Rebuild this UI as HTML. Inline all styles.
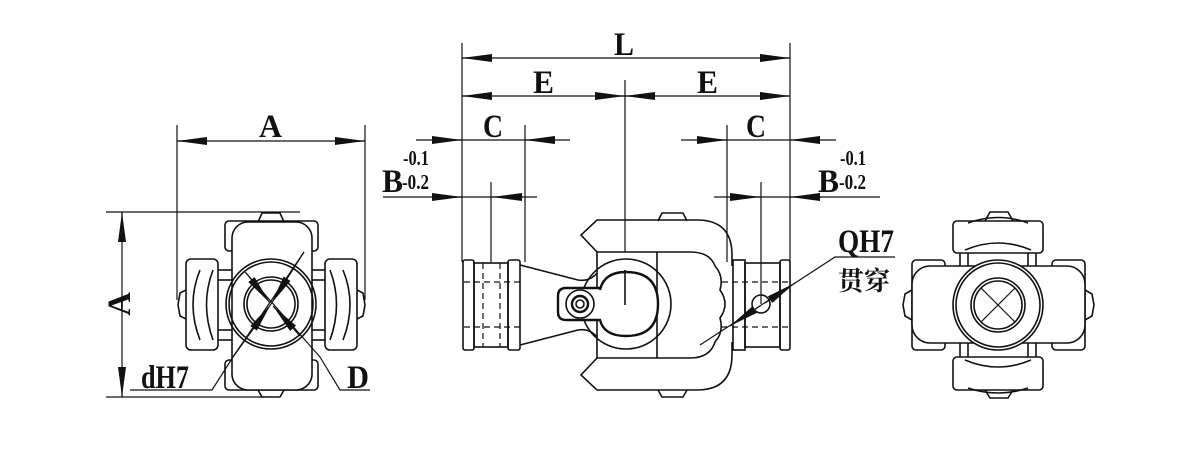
<!DOCTYPE html>
<html><head><meta charset="utf-8"><style>
html,body{margin:0;padding:0;background:#fff;}
svg{display:block;}
text{font-family:"Liberation Serif","Noto Serif CJK SC",serif;font-weight:bold;fill:#111;}
</style></head><body>
<svg width="1200" height="455" viewBox="0 0 1200 455" xmlns="http://www.w3.org/2000/svg">
<defs>
<marker id="ar" viewBox="0 0 30 8" refX="30" refY="4" markerWidth="30" markerHeight="8" markerUnits="userSpaceOnUse" orient="auto"><path d="M0,0 L30,4 L0,8 Z" fill="#111"/></marker>
</defs>
<g stroke="#111" stroke-width="1.2" fill="none">
<!-- LEFT VIEW dimensions -->
<line x1="177" y1="125" x2="177" y2="300"/>
<line x1="365" y1="125" x2="365" y2="300"/>
<line x1="177" y1="141" x2="365" y2="141"/>
<line x1="207" y1="141" x2="177" y2="141" marker-end="url(#ar)"/>
<line x1="335" y1="141" x2="365" y2="141" marker-end="url(#ar)"/>
<line x1="106" y1="212" x2="300" y2="212"/>
<line x1="106" y1="397" x2="265" y2="397"/>
<line x1="122" y1="212" x2="122" y2="397"/>
<line x1="122" y1="242" x2="122" y2="212" marker-end="url(#ar)"/>
<line x1="122" y1="367" x2="122" y2="397" marker-end="url(#ar)"/>
<!-- left view body -->
<g stroke-width="1.6">
<path d="M258,222 L262,213 L280,213 L284,222"/>
<path d="M258,390 L262,397 L280,397 L284,390"/>
<rect x="225" y="221" width="93" height="30" rx="4"/>
<rect x="225" y="360" width="93" height="30" rx="4"/>
<rect x="232" y="222" width="80" height="168" rx="16" fill="#fff"/>
<line x1="218" y1="270" x2="232" y2="270"/><line x1="218" y1="340" x2="232" y2="340"/>
<line x1="218" y1="280" x2="232" y2="280"/><line x1="218" y1="330" x2="232" y2="330"/>
<line x1="312" y1="270" x2="325" y2="270"/><line x1="312" y1="340" x2="325" y2="340"/>
<line x1="312" y1="280" x2="325" y2="280"/><line x1="312" y1="330" x2="325" y2="330"/>
<rect x="186" y="259" width="32" height="91" rx="5"/>
<rect x="325" y="259" width="32" height="91" rx="5"/>
<path d="M200,270 Q186,304 200,340"/><path d="M213,270 Q200,304 213,340"/>
<path d="M343,270 Q357,304 343,340"/><path d="M330,270 Q343,304 330,340"/>
<path d="M186,290 L180,293 L178,305 L180,316 L186,319"/>
<path d="M357,290 L363,293 L365,305 L363,316 L357,319"/>
<circle cx="271" cy="304" r="45"/><circle cx="271" cy="304" r="42"/>
<circle cx="271" cy="304" r="27"/><circle cx="271" cy="304" r="24"/>
</g>
<line x1="304" y1="252" x2="233" y2="357"/>
<line x1="233" y1="357" x2="271" y2="304" marker-end="url(#ar)"/>
<line x1="304" y1="252" x2="271" y2="304" marker-end="url(#ar)"/>
<polyline points="130,390 212,390 233,357"/>
<line x1="245" y1="272" x2="320" y2="357"/>
<polyline points="320,357 340,390 370,390"/>
<line x1="247" y1="274" x2="270" y2="303" marker-end="url(#ar)"/>
<line x1="300" y1="336" x2="273" y2="306" marker-end="url(#ar)"/>

<!-- CENTER VIEW dimensions -->
<line x1="462" y1="43" x2="462" y2="262"/>
<line x1="790" y1="43" x2="790" y2="262"/>
<line x1="462" y1="58" x2="790" y2="58"/>
<line x1="492" y1="58" x2="462" y2="58" marker-end="url(#ar)"/>
<line x1="760" y1="58" x2="790" y2="58" marker-end="url(#ar)"/>
<line x1="462" y1="96" x2="790" y2="96"/>
<line x1="492" y1="96" x2="462" y2="96" marker-end="url(#ar)"/>
<line x1="595" y1="96" x2="625" y2="96" marker-end="url(#ar)"/>
<line x1="655" y1="96" x2="625" y2="96" marker-end="url(#ar)"/>
<line x1="760" y1="96" x2="790" y2="96" marker-end="url(#ar)"/>
<line x1="625" y1="80" x2="625" y2="305"/>
<line x1="416" y1="140" x2="570" y2="140"/>
<line x1="432" y1="140" x2="462" y2="140" marker-end="url(#ar)"/>
<line x1="555" y1="140" x2="525" y2="140" marker-end="url(#ar)"/>
<line x1="525" y1="125" x2="525" y2="262"/>
<line x1="681" y1="140" x2="836" y2="140"/>
<line x1="697" y1="140" x2="727" y2="140" marker-end="url(#ar)"/>
<line x1="820" y1="140" x2="790" y2="140" marker-end="url(#ar)"/>
<line x1="727" y1="125" x2="727" y2="262"/>
<line x1="383" y1="197" x2="537" y2="197"/>
<line x1="432" y1="197" x2="462" y2="197" marker-end="url(#ar)"/>
<line x1="522" y1="197" x2="492" y2="197" marker-end="url(#ar)"/>
<line x1="491" y1="182" x2="491" y2="262"/>
<line x1="714" y1="197" x2="880" y2="197"/>
<line x1="730" y1="197" x2="760" y2="197" marker-end="url(#ar)"/>
<line x1="820" y1="197" x2="790" y2="197" marker-end="url(#ar)"/>
<line x1="761" y1="182" x2="761" y2="304"/>

<!-- center body -->
<g stroke-width="1.6">
<rect x="463" y="260" width="11" height="90" rx="2"/>
<rect x="474" y="263" width="34" height="84"/>
<rect x="508" y="260" width="12" height="90" rx="2"/>
<path d="M520,265 L578,280 Q590,282 598,272"/>
<path d="M520,345 L578,330 Q590,328 598,338"/>
<!-- yoke outer -->
<path d="M597,252 L581,235 L597,220 L697,220 Q732,220 732,255 L732,266"/>
<path d="M732,342 L732,355 Q732,390 697,390 L597,390 L581,375 L597,358"/>
<!-- yoke inner -->
<path d="M597,252 L690,252 Q710,252 715,266 Q724,276 720,290 Q730,304 720,318 Q724,332 715,342 Q710,358 690,358 L597,358 Z" fill="#fff"/>
<path d="M658,221 L662,213 L683,213 L687,221"/>
<path d="M658,390 L662,397 L683,397 L687,390"/>
<circle cx="626" cy="304" r="45"/>
<line x1="657" y1="252" x2="657" y2="358"/>
<path d="M600,290 Q604,272 626,272 Q658,272 658,304 Q658,336 626,336 Q604,336 600,320 L566,320 Q558,320 558,312 L558,296 Q558,288 566,288 L600,288" stroke-width="2.4" fill="#fff"/>
<line x1="625" y1="270" x2="625" y2="305"/>
<circle cx="580" cy="304" r="14"/><circle cx="580" cy="304" r="8" stroke-width="2.4"/><circle cx="580" cy="304" r="4"/>
<rect x="733" y="260" width="12" height="90"/>
<rect x="745" y="263" width="35" height="84"/>
<rect x="780" y="260" width="10" height="90" rx="2"/>
<circle cx="761" cy="304" r="9"/>
</g>
<g stroke-dasharray="6,4">
<line x1="464" y1="282" x2="522" y2="282"/><line x1="464" y1="327" x2="522" y2="327"/>
<line x1="722" y1="282" x2="790" y2="282"/><line x1="722" y1="327" x2="790" y2="327"/>
<line x1="483" y1="263" x2="483" y2="347"/><line x1="500" y1="263" x2="500" y2="347"/>
</g>
<!-- QH7 leader -->
<polyline points="895,257 835,257 700,345"/>
<line x1="765" y1="303" x2="795" y2="283" marker-end="url(#ar)"/>
<line x1="760" y1="306" x2="730" y2="326" marker-end="url(#ar)"/>

<!-- RIGHT VIEW -->
<g stroke-width="1.6">
<path d="M985,221 L990,212 L1008,212 L1013,221"/>
<path d="M985,390 L990,398 L1008,398 L1013,390"/>
<rect x="953" y="221" width="90" height="32" rx="4"/>
<rect x="953" y="357" width="90" height="33" rx="4"/>
<path d="M968,223 Q998,212 1028,223"/><path d="M965,250 Q998,236 1031,250"/>
<path d="M968,388 Q998,398 1028,388"/><path d="M965,360 Q998,374 1031,360"/>
<line x1="960" y1="253" x2="960" y2="266"/><line x1="968" y1="253" x2="968" y2="266"/>
<line x1="1028" y1="253" x2="1028" y2="266"/><line x1="1036" y1="253" x2="1036" y2="266"/>
<line x1="960" y1="343" x2="960" y2="357"/><line x1="968" y1="343" x2="968" y2="357"/>
<line x1="1028" y1="343" x2="1028" y2="357"/><line x1="1036" y1="343" x2="1036" y2="357"/>
<rect x="912" y="260" width="33" height="90" rx="4"/>
<rect x="1052" y="260" width="33" height="90" rx="4"/>
<rect x="912" y="266" width="173" height="77" rx="18" fill="#fff"/>
<path d="M912,290 L905,294 L903,305 L905,316 L912,320"/>
<path d="M1085,290 L1092,294 L1094,305 L1092,316 L1085,320"/>
<circle cx="998" cy="305" r="45" fill="#fff"/><circle cx="998" cy="305" r="42"/>
<circle cx="998" cy="305" r="27"/><circle cx="998" cy="305" r="24"/>
</g>
<line x1="981" y1="288" x2="1015" y2="322"/><line x1="1015" y1="288" x2="981" y2="322"/>
</g>

<g font-size="33">
<text x="259" y="137" textLength="23" lengthAdjust="spacingAndGlyphs">A</text>
<text x="614" y="55" textLength="20" lengthAdjust="spacingAndGlyphs">L</text>
<text x="533" y="93" textLength="21" lengthAdjust="spacingAndGlyphs">E</text>
<text x="697" y="93" textLength="21" lengthAdjust="spacingAndGlyphs">E</text>
<text x="483" y="137" textLength="20" lengthAdjust="spacingAndGlyphs">C</text>
<text x="746" y="137" textLength="20" lengthAdjust="spacingAndGlyphs">C</text>
<text x="382" y="192" textLength="21" lengthAdjust="spacingAndGlyphs">B</text>
<text x="818" y="192" textLength="21" lengthAdjust="spacingAndGlyphs">B</text>
<text x="347" y="388" textLength="22" lengthAdjust="spacingAndGlyphs">D</text>
<text x="141" y="388" textLength="48" lengthAdjust="spacingAndGlyphs">dH7</text>
<text x="838" y="252" textLength="56" lengthAdjust="spacingAndGlyphs">QH7</text>
<text x="130" y="304" transform="rotate(-90 130 304)" text-anchor="middle">A</text>
</g>
<g font-size="21">
<text x="403" y="165" textLength="26" lengthAdjust="spacingAndGlyphs">-0.1</text>
<text x="402" y="189" textLength="27" lengthAdjust="spacingAndGlyphs">-0.2</text>
<text x="840" y="165" textLength="26" lengthAdjust="spacingAndGlyphs">-0.1</text>
<text x="839" y="189" textLength="27" lengthAdjust="spacingAndGlyphs">-0.2</text>
</g>
<text x="838" y="290" font-size="26" font-weight="normal" style="font-family:'Noto Serif CJK SC','Noto Sans CJK SC',serif">贯穿</text>
</svg>
</body></html>
